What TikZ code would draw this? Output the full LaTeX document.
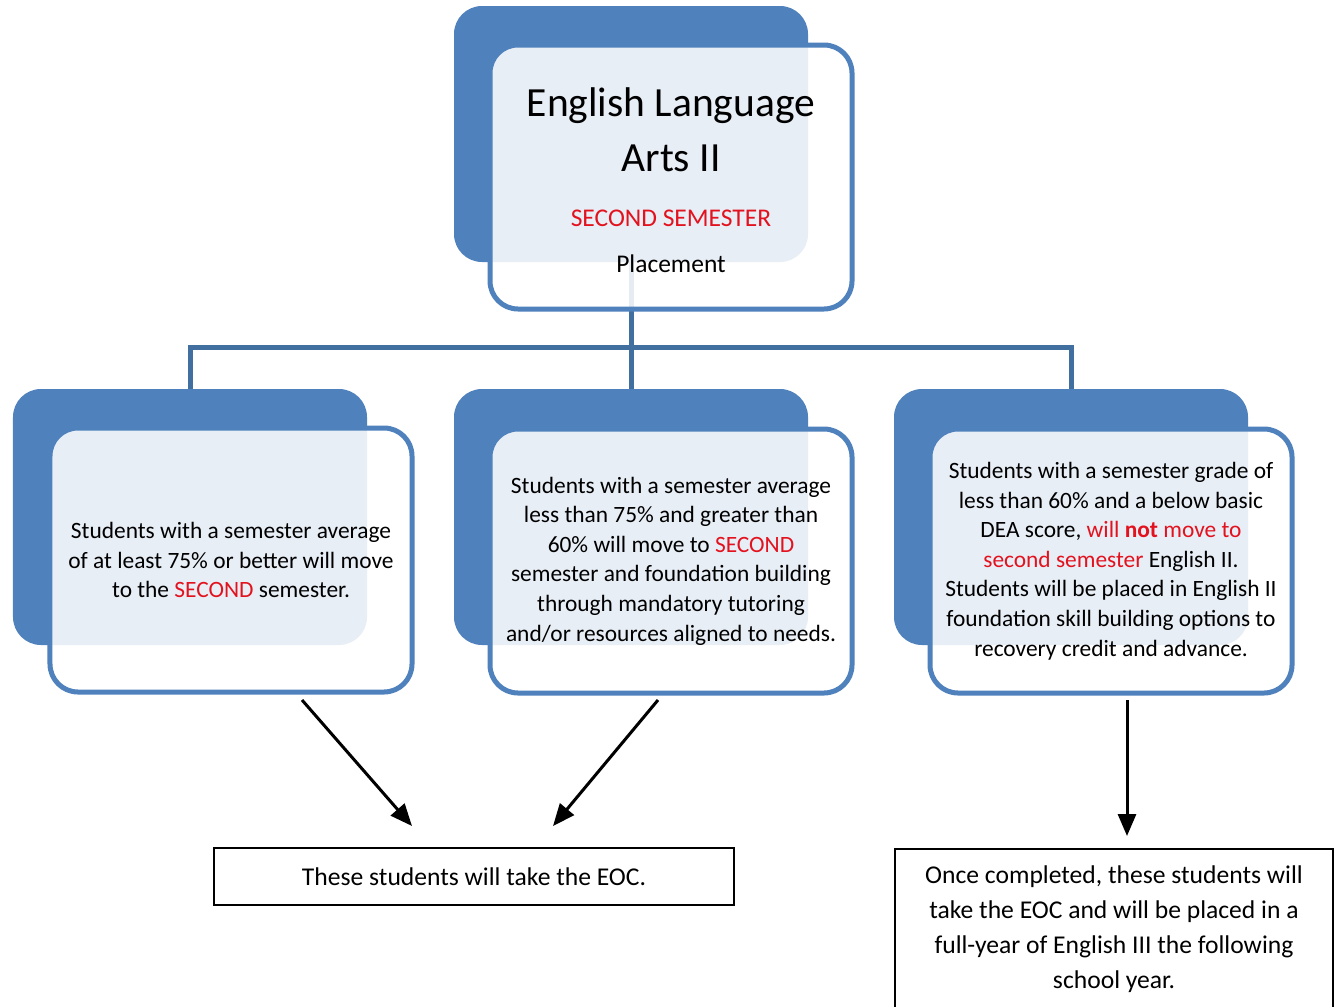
\documentclass[tikz,border=0pt]{standalone}
\usepackage{fontspec}
\setmainfont{Carlito}
\usetikzlibrary{arrows.meta}
\definecolor{accent}{RGB}{79,129,189}
\definecolor{connblue}{RGB}{65,112,160}
\definecolor{redtxt}{RGB}{226,18,30}
\newcommand{\rd}[1]{\textcolor{redtxt}{#1}}
\tikzset{
  backbox/.style={fill=accent, draw=none, rounded corners=28bp, minimum width=354bp, minimum height=256bp, inner sep=0pt},
  frontbox/.style={fill=white, fill opacity=0.87, text opacity=1, draw=accent, line width=5bp, rounded corners=28bp, minimum width=362bp, minimum height=264bp, align=center, inner sep=0pt},
  conn/.style={draw=connblue, line width=5bp},
  arr/.style={draw=black, line width=3bp, -{Triangle[length=22bp,width=18bp]}},
  plainbox/.style={draw=black, line width=1.6bp, fill=white, align=center, inner sep=0pt},
  bodytxt/.style={font=\fontsize{23.4bp}{29.6bp}\selectfont},
  txt/.style={align=center, inner sep=0pt, anchor=base}
}
\begin{document}
\begin{tikzpicture}[x=1bp,y=-1bp]
\useasboundingbox (0,0) rectangle (1337,1006);
\clip (0,0) rectangle (1337,1006);
\fill[white] (0,0) rectangle (1337,1006);
% back boxes
\node[backbox] (tb) at (631,134) {};
\node[backbox] (lb) at (190,517) {};
\node[backbox] (mb) at (631,517) {};
\node[backbox] (rb) at (1071,517) {};
% connectors
\draw[conn] (tb.south) -- (mb.north);
\draw[conn] (lb.north) -- ++(0,-41) -| (rb.north);
% front boxes
\node[frontbox] (tf) at (671,177) {};
\node[txt, font=\fontsize{41.5bp}{50bp}\selectfont] (t1) at (671,116) {English Language};
\node[txt, font=\fontsize{41.5bp}{50bp}\selectfont] (t2) at (671,171) {Arts II};
\node[txt, font=\fontsize{25.5bp}{30bp}\selectfont] (t3) at (671,226) {\rd{SECOND SEMESTER}};
\node[txt, font=\fontsize{25.5bp}{30bp}\selectfont] (t4) at (671,272) {Placement};
\node[frontbox, bodytxt] (lf) at (231,560) {Students with a semester average\\ of at least 75\% or better will move\\ to the \rd{SECOND} semester.};
\node[frontbox, bodytxt] (mf) at (671,561) {Students with a semester average\\ less than 75\% and greater than\\ 60\% will move to \rd{SECOND}\\ semester and foundation building\\ through mandatory tutoring\\ and/or resources aligned to needs.};
\node[frontbox, bodytxt] (rf) at (1111,561) {Students with a semester grade of\\ less than 60\% and a below basic\\ DEA score, \rd{will \textbf{not} move to}\\ \rd{second semester} English II.\\ Students will be placed in English II\\ foundation skill building options to\\ recovery credit and advance.};
% bottom boxes
\node[plainbox, minimum width=520bp, minimum height=57bp, font=\fontsize{25.6bp}{30bp}\selectfont] (eoc) at (474,876.5) {These students will take the EOC.};
\node[plainbox, minimum width=438bp, minimum height=170bp] (eoc2) at (1114,934) {};
\node[txt, font=\fontsize{25.6bp}{35bp}\selectfont, anchor=north] (eoc2t) at (1114,866) {Once completed, these students will\\ take the EOC and will be placed in a\\ full-year of English III the following\\ school year.};
% arrows
\coordinate (a1s) at (302,700);
\coordinate (a1e) at (412,826);
\coordinate (a2s) at (658,700);
\coordinate (a2e) at (553,826);
\coordinate (a3s) at (1127,700);
\coordinate (a3e) at (1127,836);
\draw[arr] (a1s) -- (a1e);
\draw[arr] (a2s) -- (a2e);
\draw[arr] (a3s) -- (a3e);
\end{tikzpicture}
\end{document}
